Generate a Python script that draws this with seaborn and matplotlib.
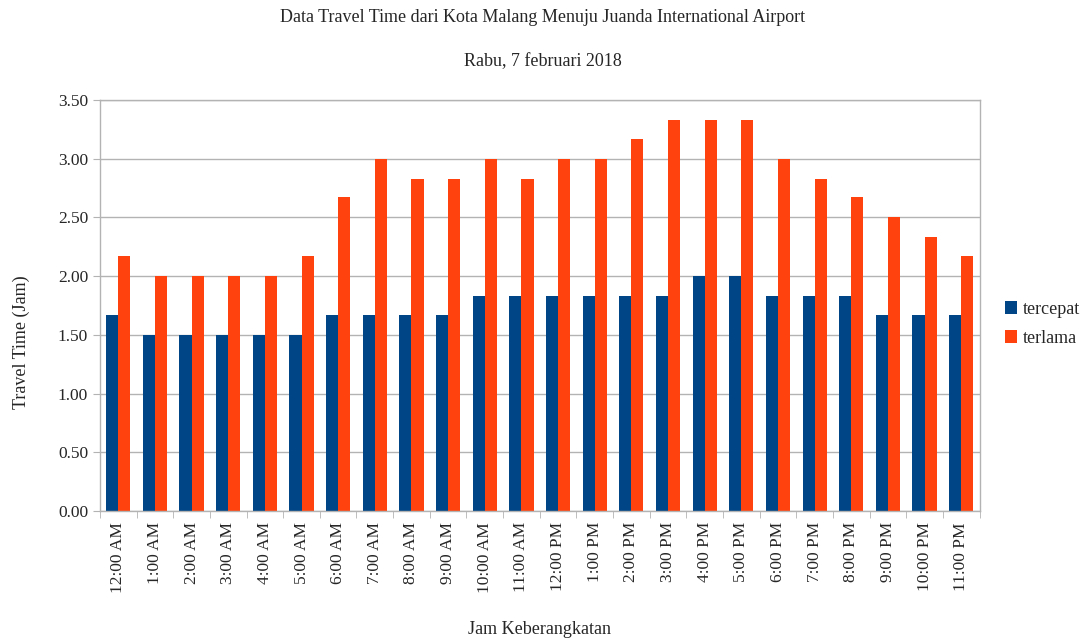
import pandas as pd
import numpy as np
import matplotlib
matplotlib.use("Agg")
import matplotlib.pyplot as plt
import seaborn as sns
from matplotlib.ticker import FixedLocator

jam = ["12:00 AM", "1:00 AM", "2:00 AM", "3:00 AM", "4:00 AM", "5:00 AM",
       "6:00 AM", "7:00 AM", "8:00 AM", "9:00 AM", "10:00 AM", "11:00 AM",
       "12:00 PM", "1:00 PM", "2:00 PM", "3:00 PM", "4:00 PM", "5:00 PM",
       "6:00 PM", "7:00 PM", "8:00 PM", "9:00 PM", "10:00 PM", "11:00 PM"]
tercepat = [1.67, 1.50, 1.50, 1.50, 1.50, 1.50, 1.67, 1.67, 1.67, 1.67, 1.83, 1.83,
            1.83, 1.83, 1.83, 1.83, 2.00, 2.00, 1.83, 1.83, 1.83, 1.67, 1.67, 1.67]
terlama = [2.17, 2.00, 2.00, 2.00, 2.00, 2.17, 2.67, 3.00, 2.83, 2.83, 3.00, 2.83,
           3.00, 3.00, 3.17, 3.33, 3.33, 3.33, 3.00, 2.83, 2.67, 2.50, 2.33, 2.17]

df = pd.DataFrame({"jam": jam * 2,
                   "waktu": tercepat + terlama,
                   "seri": ["tercepat"] * len(jam) + ["terlama"] * len(jam)})

sns.set_style("white")
plt.rcParams["font.family"] = ["Liberation Serif", "DejaVu Serif"]

fig = plt.figure(figsize=(10.86, 6.39), dpi=100)
ax = fig.add_axes([0.092, 0.2003, 0.81, 0.6432])

sns.barplot(data=df, x="jam", y="waktu", hue="seri", order=jam,
            palette={"tercepat": "#004586", "terlama": "#ff420e"},
            width=0.66, gap=0, saturation=1, linewidth=0, ax=ax, legend=True)

ax.set_ylim(0, 3.5)
ax.set_xlim(-0.5, len(jam) - 0.5)
ax.set_yticks(np.arange(0, 3.51, 0.5))
ax.set_yticklabels([f"{v:.2f}" for v in np.arange(0, 3.51, 0.5)], fontsize=12.5)
ax.yaxis.grid(True, color="#b3b3b3", linewidth=1)
ax.set_axisbelow(True)

ax.set_xticks(range(len(jam)))
ax.set_xticklabels(jam, rotation=90, fontsize=12.5)
ax.tick_params(axis="x", which="major", length=0, pad=8)
ax.xaxis.set_minor_locator(FixedLocator(np.arange(-0.5, len(jam), 1)))
ax.tick_params(axis="x", which="minor", length=5, color="#b3b3b3", direction="out", bottom=True)
ax.tick_params(axis="y", length=5, color="#b3b3b3", direction="out", left=True)

for s in ax.spines.values():
    s.set_color("#b3b3b3")
    s.set_linewidth(1)

ax.set_xlabel("Jam Keberangkatan", fontsize=13, labelpad=20)
ax.set_ylabel("Travel Time (Jam)", fontsize=13, labelpad=20)
ax.yaxis.set_label_coords(-0.080, 0.41)

fig.text(0.5, 0.972, "Data Travel Time dari Kota Malang Menuju Juanda International Airport",
         ha="center", va="center", fontsize=13)
fig.text(0.5, 0.904, "Rabu, 7 februari 2018", ha="center", va="center", fontsize=13)

ax.legend(loc="center left", bbox_to_anchor=(1.01, 0.455), frameon=False, fontsize=13,
          handlelength=0.7, handleheight=0.7, handletextpad=0.3, labelspacing=0.65)

fig.savefig("out.png", dpi=100, facecolor="white")
